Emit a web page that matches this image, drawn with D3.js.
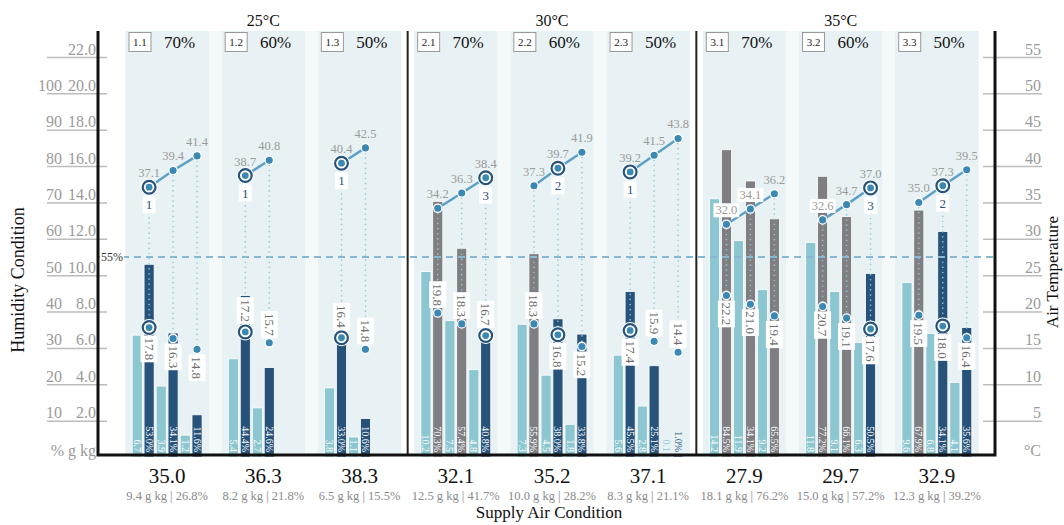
<!DOCTYPE html>
<html>
<head>
<meta charset="utf-8">
<script src="https://cdn.jsdelivr.net/npm/d3@7"></script>
<style>
  body { margin: 0; background: #fff; }
  svg { font-family: "Liberation Serif", "DejaVu Serif", serif; }
</style>
</head>
<body>
<svg id="chart" width="1064" height="525"></svg>
<script>
// ---- data ----
const groups = ['25°C', '30°C', '35°C'];
const panelIds = ['1.1', '1.2', '1.3', '2.1', '2.2', '2.3', '3.1', '3.2', '3.3'];
const humidityLevels = ['70%', '60%', '50%', '70%', '60%', '50%', '70%', '60%', '50%'];
const supplyTemp = ['35.0', '36.3', '38.3', '32.1', '35.2', '37.1', '27.9', '29.7', '32.9'];
const supplyDetail = ['9.4 g kg | 26.8%', '8.2 g kg | 21.8%', '6.5 g kg | 15.5%',
  '12.5 g kg | 41.7%', '10.0 g kg | 28.2%', '8.3 g kg | 21.1%',
  '18.1 g kg | 76.2%', '15.0 g kg | 57.2%', '12.3 g kg | 39.2%'];

// upper line: air temperature (°C)
const exhaustTemp = [[37.1, 39.4, 41.4], [38.7, 40.8], [40.4, 42.5],
  [34.2, 36.3, 38.4], [37.3, 39.7, 41.9], [39.2, 41.5, 43.8],
  [32.0, 34.1, 36.2], [32.6, 34.7, 37.0], [35.0, 37.3, 39.5]];
// lower points: supply temperature (°C)
const outletTemp = [[17.8, 16.3, 14.8], [17.2, 15.7], [16.4, 14.8],
  [19.8, 18.3, 16.7], [18.3, 16.8, 15.2], [17.4, 15.9, 14.4],
  [22.2, 21.0, 19.4], [20.7, 19.1, 17.6], [19.5, 18.0, 16.4]];
// light bars: g/kg
const moisture = [[6.7, 3.9, 1.2], [5.4, 2.7], [3.8, 1.1],
  [10.2, 7.5, 4.8], [7.3, 4.5, 1.8], [5.6, 2.8, 0.1],
  [14.2, 11.9, 9.2], [11.8, 9.1, 6.3], [9.6, 6.8, 4.1]];
// dark bars: relative humidity as printed, and as drawn
const rhPrinted = [[53.0, 34.1, 11.6], [44.4, 24.6], [33.0, 10.6],
  [70.3, 57.4, 40.8], [55.9, 38.0, 33.8], [45.5, 25.1, 1.0],
  [84.5, 34.1, 65.5], [77.2, 66.1, 50.5], [67.9, 34.1, 35.6]];
const rhDrawn = [[53.0, 34.1, 11.6], [44.4, 24.6], [33.0, 10.6],
  [70.3, 57.4, 40.8], [55.9, 38.0, 33.8], [45.5, 25.1, 1.0],
  [84.5, 75.9, 65.5], [77.2, 66.1, 50.5], [67.9, 62.0, 35.6]];
const selected = [0, 0, 0, 2, 1, 0, -1, 2, 1];
const outletLabelBelow = [[1, 1, 1], [0, 0], [0, 0], [0, 0, 0], [0, 1, 1], [1, 0, 0],
  [1, 1, 1], [1, 1, 1], [1, 1, 1]];
const rhLimit = 55;

const leftTicks = d3.range(2, 23, 2);
const rightTicks = d3.range(5, 56, 5);

// ---- colours ----
const C = {
  panel: '#e8f2f5', band: '#f4f9fa', teal: '#8cc6d1', navy: '#27527a',
  gray: '#7e7e83', line: '#5e9fc4', dot: '#3b88b2', dotted: '#8fcad8',
  dash: '#89b7d2', tick: '#9a9a9a', grid: '#bdbdbd'
};

const svg = d3.select('#chart');
const plotTop = 31, baseY = 455, axisL = 98, axisR = 995;

const yG = d3.scaleLinear().domain([0, 22]).range([457, 57]);
const yT = d3.scaleLinear().domain([0, 55]).range([457, 57]);

const xGroup = d3.scaleBand().domain(groups).range([119, 985]).paddingInner(0.045).paddingOuter(0.0225);
const xPanel = d3.scaleBand().domain([0, 1, 2]).range([0, xGroup.bandwidth()]).paddingInner(0.134);
const xConfig = d3.scaleBand().domain([0, 1, 2]).range([0, xPanel.bandwidth()]).paddingInner(0.085).paddingOuter(0.28);
const xBar = d3.scaleBand().domain(['moist', 'rh']).range([0, xConfig.bandwidth()]).paddingInner(0.15);

const panelX = i => xGroup(groups[Math.floor(i / 3)]) + xPanel(i % 3);

// ---- backgrounds ----
const bg = svg.append('g');
groups.forEach(g => {
  bg.append('rect').attr('x', xGroup(g)).attr('y', plotTop)
    .attr('width', xGroup.bandwidth()).attr('height', baseY - plotTop).attr('fill', C.band);
});
panelIds.forEach((id, i) => {
  bg.append('rect').attr('x', panelX(i)).attr('y', plotTop)
    .attr('width', xPanel.bandwidth()).attr('height', baseY - plotTop).attr('fill', C.panel);
});

// ---- axes ----
const leftAxis = svg.append('g').attr('transform', `translate(107,0)`)
  .call(d3.axisLeft(yG).tickValues(leftTicks).tickSize(60).tickFormat(d3.format('.1f')));
leftAxis.select('.domain').remove();
leftAxis.selectAll('line').attr('stroke', C.grid).attr('stroke-width', 1.5);
leftAxis.selectAll('text').attr('x', -11).attr('dy', -3).attr('fill', C.tick)
  .attr('font-size', 16).attr('font-family', 'Liberation Serif');
leftAxis.selectAll('.tick').filter(d => d <= 20).append('text')
  .attr('x', -45).attr('dy', -3).attr('text-anchor', 'end').attr('fill', C.tick)
  .attr('font-size', 16).attr('font-family', 'Liberation Serif').text(d => d * 5);
svg.append('text').attr('x', 96).attr('y', 456).attr('text-anchor', 'end')
  .attr('fill', C.tick).attr('font-size', 16).text('% g kg');

const rightAxis = svg.append('g').attr('transform', `translate(983,0)`)
  .call(d3.axisRight(yT).tickValues(rightTicks).tickSize(59));
rightAxis.select('.domain').remove();
rightAxis.selectAll('line').attr('stroke', C.grid).attr('stroke-width', 1.5);
rightAxis.selectAll('text').attr('x', 58).attr('dy', -3).attr('text-anchor', 'end')
  .attr('fill', C.tick).attr('font-size', 16).attr('font-family', 'Liberation Serif');
svg.append('text').attr('x', 1041).attr('y', 456).attr('text-anchor', 'end')
  .attr('fill', C.tick).attr('font-size', 16).text('°C');

// ---- bars ----
const marks = svg.append('g');
const slotInfo = [];
panelIds.forEach((id, i) => {
  moisture[i].forEach((m, j) => {
    const x0 = panelX(i) + xConfig(j);
    const bw = xBar.bandwidth();
    const isSel = selected[i] === j;
    const rhVal = rhDrawn[i][j];
    const darkCol = (isSel || rhVal <= rhLimit) ? C.navy : C.gray;
    const mTop = yG(m), rTop = yG(rhVal / 5);
    marks.append('rect').attr('x', x0 + xBar('moist')).attr('y', mTop)
      .attr('width', bw).attr('height', yG(0) - mTop).attr('fill', C.teal)
      .attr('stroke', '#fff').attr('stroke-width', 0.8);
    marks.append('rect').attr('x', x0 + xBar('rh')).attr('y', rTop)
      .attr('width', bw).attr('height', yG(0) - rTop).attr('fill', darkCol)
      .attr('stroke', '#fff').attr('stroke-width', 0.8);
    slotInfo.push({ i, j, x0, bw, mTop, rTop, darkCol, isSel,
      cx: x0 + xBar('rh') + bw / 2, mx: x0 + xBar('moist') + bw / 2 });
  });
});

// bar value labels (rotated, at the base)
const barLabels = svg.append('g').attr('font-size', 10);
slotInfo.forEach(s => {
  const items = [
    { x: s.mx, h: yG(0) - s.mTop, txt: moisture[s.i][s.j].toFixed(1), col: C.teal },
    { x: s.cx, h: yG(0) - s.rTop, txt: rhPrinted[s.i][s.j].toFixed(1) + '%', col: s.darkCol }
  ];
  items.forEach(it => {
    barLabels.append('text')
      .attr('transform', `translate(${it.x},452) rotate(90)`)
      .attr('text-anchor', 'end').attr('dy', '0.35em')
      .attr('fill', it.h > it.txt.length * 5 ? '#fff' : it.col)
      .text(it.txt);
  });
});

// 55% limit line
const limY = yG(rhLimit / 5);
svg.append('line').attr('x1', axisL).attr('x2', axisR).attr('y1', limY).attr('y2', limY)
  .attr('stroke', C.dash).attr('stroke-width', 2).attr('stroke-dasharray', '7,5');
svg.append('rect').attr('x', 100).attr('y', limY - 8).attr('width', 24).attr('height', 14).attr('fill', '#fff');
svg.append('text').attr('x', 101).attr('y', limY + 4).attr('font-size', 12).attr('fill', '#333').text('55%');

// dotted droplines
const drops = svg.append('g');
slotInfo.forEach(s => {
  drops.append('line').attr('x1', s.cx).attr('x2', s.cx)
    .attr('y1', yT(exhaustTemp[s.i][s.j])).attr('y2', yT(outletTemp[s.i][s.j]))
    .attr('stroke', C.dotted).attr('stroke-width', 1.6)
    .attr('stroke-dasharray', '0.1,5').attr('stroke-linecap', 'round');
});

// upper temperature lines
const line = d3.line().x(d => d.cx).y(d => yT(exhaustTemp[d.i][d.j]));
panelIds.forEach((id, i) => {
  const pts = slotInfo.filter(s => s.i === i);
  svg.append('path').datum(pts).attr('d', line).attr('fill', 'none')
    .attr('stroke', C.line).attr('stroke-width', 2.5);
});

function ringed(g, x, y) {
  g.append('circle').attr('cx', x).attr('cy', y).attr('r', 8.5).attr('fill', '#fff');
  g.append('circle').attr('cx', x).attr('cy', y).attr('r', 6.4).attr('fill', '#fff')
    .attr('stroke', C.navy).attr('stroke-width', 2.2);
  g.append('circle').attr('cx', x).attr('cy', y).attr('r', 3.4).attr('fill', C.dot);
}
function plainDot(g, x, y) {
  g.append('circle').attr('cx', x).attr('cy', y).attr('r', 4.2).attr('fill', C.dot)
    .attr('stroke', '#fff').attr('stroke-width', 1.3);
}

const pts = svg.append('g');
const labels = svg.append('g');
slotInfo.forEach(s => {
  const tTop = exhaustTemp[s.i][s.j], tLow = outletTemp[s.i][s.j];
  const yTop = yT(tTop), yLow = yT(tLow);

  // upper points
  if (s.isSel) ringed(pts, s.cx, yTop); else plainDot(pts, s.cx, yTop);
  const tt = labels.append('text').attr('x', s.cx).attr('y', yTop - 10)
    .attr('text-anchor', 'middle').attr('font-size', 12.5).attr('fill', C.tick).text(tTop.toFixed(1));
  if (yTop - 8 > Math.min(s.mTop, s.rTop)) {
    const b = tt.node().getBBox();
    labels.insert('rect', () => tt.node()).attr('x', b.x - 2).attr('y', b.y)
      .attr('width', b.width + 4).attr('height', b.height).attr('fill', '#fff');
  }
  if (s.isSel) {
    labels.append('rect').attr('x', s.cx - 6.5).attr('y', yTop + 9).attr('width', 13).attr('height', 17).attr('fill', '#fff');
    labels.append('text').attr('x', s.cx).attr('y', yTop + 22).attr('text-anchor', 'middle')
      .attr('font-size', 13).attr('fill', C.navy).text(selected[s.i] + 1);
  }

  // lower points
  if (s.isSel) ringed(pts, s.cx, yLow); else plainDot(pts, s.cx, yLow);
  const below = outletLabelBelow[s.i][s.j] === 1;
  const gap = s.isSel ? 10 : 7;
  const lg = labels.append('g')
    .attr('transform', `translate(${s.cx},${below ? yLow + gap : yLow - gap}) rotate(90)`);
  const lt = lg.append('text').attr('text-anchor', below ? 'start' : 'end').attr('dy', '0.35em')
    .attr('font-size', 13).attr('fill', '#6e6e6e').text(tLow.toFixed(1));
  const lb = lt.node().getBBox();
  lg.insert('rect', 'text').attr('x', lb.x - 2).attr('y', lb.y - 1)
    .attr('width', lb.width + 4).attr('height', lb.height + 2).attr('fill', '#fff');
});

// ---- frame ----
groups.slice(1).forEach(g => {
  const x = xGroup(g) - (xGroup.step() - xGroup.bandwidth()) / 2;
  svg.append('line').attr('x1', x).attr('x2', x).attr('y1', plotTop).attr('y2', baseY)
    .attr('stroke', '#222').attr('stroke-width', 2);
});
svg.append('path').attr('d', `M${axisL},${plotTop}V${baseY}H${axisR}V${plotTop}`)
  .attr('fill', 'none').attr('stroke', '#111').attr('stroke-width', 3);

// ---- panel headers and x labels ----
panelIds.forEach((id, i) => {
  const x = panelX(i), cx = x + xPanel.bandwidth() / 2;
  svg.append('rect').attr('x', x + 3.5).attr('y', plotTop + 1.5).attr('width', 22).attr('height', 19)
    .attr('fill', '#fff').attr('stroke', '#999').attr('stroke-width', 1);
  svg.append('text').attr('x', x + 14.5).attr('y', plotTop + 15).attr('text-anchor', 'middle')
    .attr('font-size', 11).attr('fill', '#222').text(id);
  svg.append('text').attr('x', x + 54).attr('y', plotTop + 16.5).attr('text-anchor', 'middle')
    .attr('font-size', 17).attr('fill', '#111').text(humidityLevels[i]);
  svg.append('text').attr('x', cx).attr('y', 483).attr('text-anchor', 'middle')
    .attr('font-size', 21).attr('fill', '#111').text(supplyTemp[i]);
  svg.append('text').attr('x', cx).attr('y', 500).attr('text-anchor', 'middle')
    .attr('font-size', 12.5).attr('fill', '#8a8a8a').text(supplyDetail[i]);
});
groups.forEach(g => {
  svg.append('text').attr('x', xGroup(g) + xGroup.bandwidth() / 2).attr('y', 26)
    .attr('text-anchor', 'middle').attr('font-size', 16).attr('fill', '#111').text(g);
});

// ---- axis titles ----
svg.append('text').attr('transform', 'translate(24,280) rotate(-90)').attr('text-anchor', 'middle')
  .attr('font-size', 18).attr('fill', '#111').text('Humidity Condition');
svg.append('text').attr('transform', 'translate(1058,272) rotate(-90)').attr('text-anchor', 'middle')
  .attr('font-size', 17).attr('fill', '#111').text('Air Temperature');
svg.append('text').attr('x', 549).attr('y', 518).attr('text-anchor', 'middle')
  .attr('font-size', 17).attr('fill', '#111').text('Supply Air Condition');
</script>
</body>
</html>
